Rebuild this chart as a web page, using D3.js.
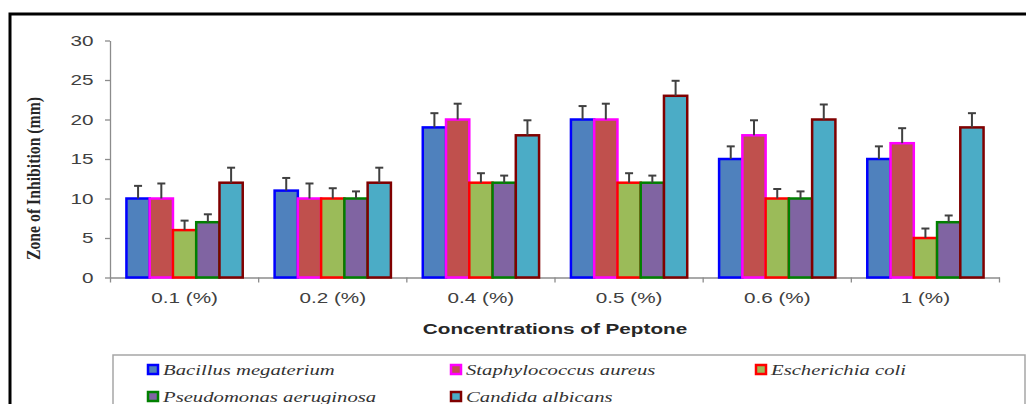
<!DOCTYPE html>
<html>
<head>
<meta charset="utf-8">
<script src="https://cdn.jsdelivr.net/npm/d3@7"></script>
<style>
  html, body { margin: 0; padding: 0; background: #fff; }
  svg { display: block; }
</style>
</head>
<body>
<svg id="chart" width="1026" height="404"></svg>
<script>
// ---- data ----
const categories = ["0.1 (%)", "0.2 (%)", "0.4 (%)", "0.5 (%)", "0.6 (%)", "1 (%)"];
const seriesNames = ["Bacillus megaterium", "Staphylococcus aureus", "Escherichia coli", "Pseudomonas aeruginosa", "Candida albicans"];
const bacillus = [10, 11, 19, 20, 15, 15];
const staphylococcus = [10, 10, 20, 20, 18, 17];
const escherichia = [6, 10, 12, 12, 10, 5];
const pseudomonas = [7, 10, 12, 12, 10, 7];
const candida = [12, 12, 18, 23, 20, 19];
const bacillusErr = [1.6, 1.6, 1.8, 1.7, 1.6, 1.6];
const staphylococcusErr = [1.9, 1.9, 2.0, 2.0, 1.9, 1.9];
const escherichiaErr = [1.2, 1.3, 1.2, 1.2, 1.2, 1.2];
const pseudomonasErr = [1.0, 0.9, 0.9, 0.9, 0.9, 0.85];
const candidaErr = [1.9, 1.9, 1.9, 1.9, 1.9, 1.8];
const yTicks = [0, 5, 10, 15, 20, 25, 30];
const xTitle = "Concentrations of Peptone";
const yTitle = "Zone of Inhibition (mm)";

const fills = ["#4F81BD", "#C0504D", "#9BBB59", "#8064A2", "#4BACC6"];
const strokes = ["#0000FF", "#FF00FF", "#FF0000", "#008000", "#800000"];
const values = [bacillus, staphylococcus, escherichia, pseudomonas, candida];
const errors = [bacillusErr, staphylococcusErr, escherichiaErr, pseudomonasErr, candidaErr];

const STRETCH = 1.38;
const svg = d3.select("#chart");

// outer frame
svg.append("rect").attr("x", 10).attr("y", 14).attr("width", 1100).attr("height", 500)
  .attr("fill", "none").attr("stroke", "#000").attr("stroke-width", 3);

const x0 = d3.scaleBand().domain(categories).range([110.5, 999.5]).padding(0);
const x1 = d3.scaleBand().domain(d3.range(seriesNames.length)).range([0, x0.bandwidth()])
  .paddingInner(0).paddingOuter(0.685);
const y = d3.scaleLinear().domain([0, 30]).range([277.5, 40.5]);

const axisColor = "#8c8c8c";
const textColor = "#404040";

// y axis
const gy = svg.append("g").attr("transform", "translate(110,0)")
  .call(d3.axisLeft(y).tickValues(yTicks).tickSize(5).tickSizeOuter(0).tickPadding(7));
gy.select(".domain").attr("stroke", axisColor).attr("stroke-width", 1.3);
gy.selectAll(".tick line").attr("stroke", axisColor).attr("stroke-width", 1.3);
gy.selectAll(".tick text").attr("fill", textColor).attr("font-family", "Liberation Sans, Arial, sans-serif")
  .attr("font-size", 15).attr("transform", `scale(${STRETCH},1)`);

// x axis
const gx = svg.append("g").attr("transform", "translate(0,277.5)")
  .call(d3.axisBottom(x0).tickSize(0).tickSizeOuter(0).tickPadding(15));
gx.select(".domain").attr("stroke", axisColor).attr("stroke-width", 1.3);
gx.selectAll(".tick text").attr("fill", textColor).attr("font-family", "Liberation Sans, Arial, sans-serif")
  .attr("font-size", 15).attr("transform", `scale(${STRETCH},1)`);
// boundary ticks
const bounds = categories.map(c => x0(c)).concat([x0(categories[categories.length - 1]) + x0.bandwidth()]);
gx.selectAll(".bound").data(bounds).enter().append("line")
  .attr("x1", d => d).attr("x2", d => d).attr("y1", 0).attr("y2", 5)
  .attr("stroke", axisColor).attr("stroke-width", 1.3);

// bars
values.forEach((vals, si) => {
  svg.append("g").selectAll("rect").data(vals).enter().append("rect")
    .attr("x", (d, i) => x0(categories[i]) + x1(si))
    .attr("y", d => y(d))
    .attr("width", x1.bandwidth())
    .attr("height", d => y(0) - y(d))
    .attr("fill", fills[si])
    .attr("stroke", strokes[si])
    .attr("stroke-width", 2.5);
});

// error bars
values.forEach((vals, si) => {
  const g = svg.append("g").attr("stroke", "#404040").attr("stroke-width", 2);
  vals.forEach((v, i) => {
    const cx = x0(categories[i]) + x1(si) + x1.bandwidth() / 2;
    const top = y(v + errors[si][i]);
    g.append("line").attr("x1", cx).attr("x2", cx).attr("y1", y(v)).attr("y2", top);
    g.append("line").attr("x1", cx - 4).attr("x2", cx + 4).attr("y1", top).attr("y2", top);
  });
});

// x title
svg.append("text")
  .attr("transform", `translate(${(x0.range()[0] + x0.range()[1]) / 2},334) scale(${STRETCH},1)`)
  .attr("text-anchor", "middle").attr("font-family", "Liberation Sans, Arial, sans-serif")
  .attr("font-weight", "bold").attr("font-size", 15).attr("fill", "#262626").text(xTitle);

// y title
svg.append("text")
  .attr("transform", `translate(40,178.5) rotate(-90) scale(1,${STRETCH})`)
  .attr("text-anchor", "middle").attr("font-family", "Liberation Serif, Times New Roman, serif")
  .attr("font-weight", "bold").attr("font-size", 14).attr("fill", "#262626")
  .attr("textLength", 163).attr("lengthAdjust", "spacingAndGlyphs").text(yTitle);

// legend
svg.append("rect").attr("x", 113).attr("y", 355).attr("width", 912).attr("height", 100)
  .attr("fill", "#fff").attr("stroke", "#a6a6a6").attr("stroke-width", 1.5);
const legX = [147, 450, 755];
const legY = [375, 402];
const items = svg.append("g").selectAll("g").data(seriesNames).enter().append("g")
  .attr("transform", (d, i) => `translate(${legX[i % 3]},${legY[Math.floor(i / 3)]})`);
items.append("rect").attr("x", 1).attr("y", -10).attr("width", 10).attr("height", 9)
  .attr("fill", (d, i) => fills[i]).attr("stroke", (d, i) => strokes[i]).attr("stroke-width", 2.5);
items.append("text").attr("transform", `translate(16,0) scale(${STRETCH},1)`)
  .attr("font-family", "Liberation Serif, Times New Roman, serif").attr("font-style", "italic")
  .attr("font-size", 15).attr("fill", "#333").text(d => d);
</script>
</body>
</html>
